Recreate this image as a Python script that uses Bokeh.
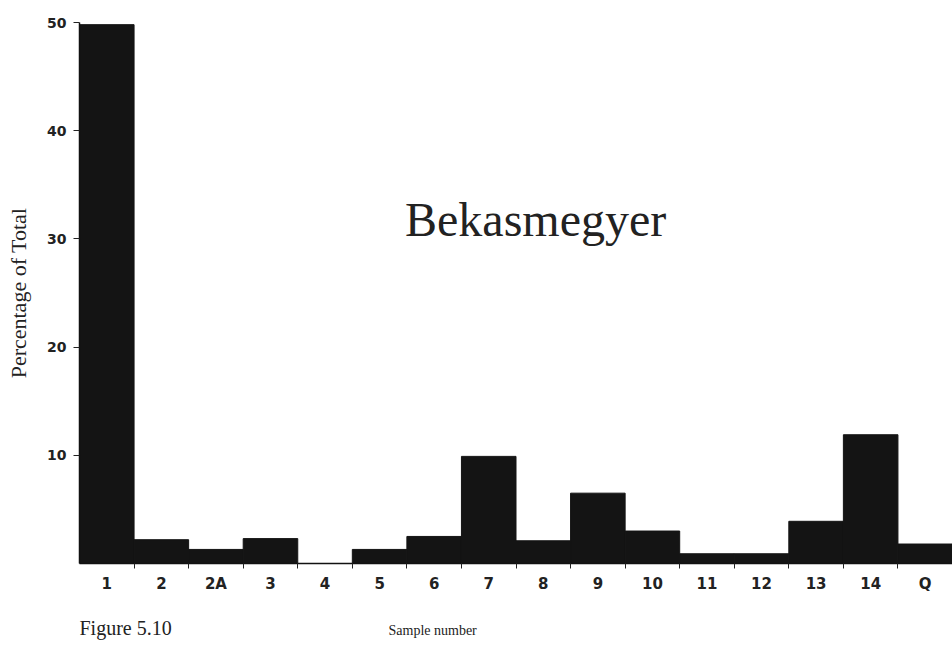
from bokeh.plotting import figure
from bokeh.layouts import column
from bokeh.models import (Range1d, FixedTicker, CustomJSTickFormatter, Label,
                          ColumnDataSource)
from bokeh.embed import file_html
from bokeh.resources import INLINE

# ---- data ----
categories = ["1", "2", "2A", "3", "4", "5", "6", "7", "8", "9", "10", "11", "12", "13", "14", "Q"]
percent = [49.8, 2.2, 1.3, 2.3, 0.0, 1.3, 2.5, 9.9, 2.1, 6.5, 3.0, 0.9, 0.9, 3.9, 11.9, 1.8]
y_ticks = [10, 20, 30, 40, 50]

n = len(categories)
centers = [i + 0.5 for i in range(n)]
bounds = [i for i in range(1, n)]

src = ColumnDataSource(dict(x=centers, top=percent, cat=categories))

p = figure(width=952, height=600, output_backend="svg", toolbar_location=None,
           x_range=Range1d(0, n), y_range=Range1d(0, 50),
           min_border_left=79, min_border_right=0, min_border_top=22, min_border_bottom=37)
p.outline_line_color = None
p.xgrid.visible = False
p.ygrid.visible = False
p.background_fill_color = "white"

p.vbar(x="x", top="top", width=1.0, bottom=0, source=src,
       fill_color="#141414", line_color="#141414", line_width=1)

# x axis
xa = p.xaxis[0]
xa.ticker = FixedTicker(ticks=centers, minor_ticks=bounds)
xa.formatter = CustomJSTickFormatter(args=dict(labels=categories),
                                     code="return labels[Math.floor(tick)];")
xa.major_tick_out = 0
xa.major_tick_in = 0
xa.minor_tick_out = 5
xa.minor_tick_in = 0
xa.minor_tick_line_color = "#222222"
xa.axis_line_color = "#111111"
xa.axis_line_width = 1.5
xa.major_label_text_font = "DejaVu Sans"
xa.major_label_text_font_style = "bold"
xa.major_label_text_font_size = "15px"
xa.major_label_text_color = "#222222"
xa.major_label_standoff = 6

# y axis
ya = p.yaxis[0]
ya.ticker = FixedTicker(ticks=y_ticks, minor_ticks=[])
ya.major_tick_out = 6
ya.major_tick_in = 0
ya.major_tick_line_color = "#222222"
ya.axis_line_color = "#111111"
ya.axis_line_width = 1.5
ya.major_label_text_font = "DejaVu Sans"
ya.major_label_text_font_style = "bold"
ya.major_label_text_font_size = "14px"
ya.major_label_text_color = "#222222"
ya.major_label_standoff = 7
ya.axis_label = "Percentage of Total"
ya.axis_label_text_font = "Liberation Serif"
ya.axis_label_text_font_style = "normal"
ya.axis_label_text_font_size = "22px"
ya.axis_label_text_color = "#222222"
ya.axis_label_standoff = 13

p.add_layout(Label(x=8.36, y=31.8, text="Bekasmegyer", text_align="center",
                   text_baseline="alphabetic", text_font="Liberation Serif",
                   text_font_size="48px", text_color="#222222"))

# caption strip under the chart (its frame is aligned with the chart frame)
cap = figure(width=952, height=46, output_backend="svg", toolbar_location=None,
             x_range=Range1d(79, 952), y_range=Range1d(46, 0),
             min_border=0, x_axis_type=None, y_axis_type=None)
cap.outline_line_color = None
cap.xgrid.visible = False
cap.ygrid.visible = False
cap.add_layout(Label(x=79, y=27, text="Figure 5.10", text_align="left",
                     text_baseline="alphabetic", text_font="Liberation Serif",
                     text_font_size="20px", text_color="#222222"))
cap.add_layout(Label(x=388, y=30, text="Sample number", text_align="left",
                     text_baseline="alphabetic", text_font="Liberation Serif",
                     text_font_size="14px", text_color="#222222"))

layout = column(p, cap, spacing=0)
open("out.html", "w").write(file_html(layout, INLINE))
